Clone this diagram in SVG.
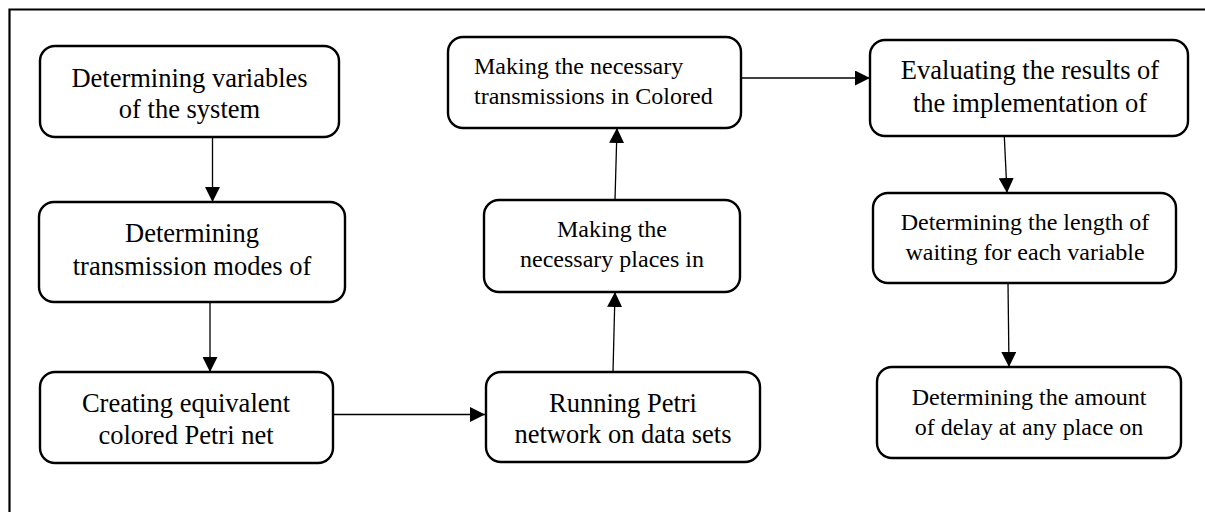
<svg xmlns="http://www.w3.org/2000/svg" width="1205" height="512" viewBox="0 0 1205 512">
  <style>
    .box { fill: #ffffff; stroke: #000000; stroke-width: 2.4; }
    .lbl { font-family: "Liberation Serif", "Times New Roman", serif; fill: #000000; text-anchor: middle; }
    .lg { font-size: 26.5px; }
    .sm { font-size: 24px; }
    .left { text-anchor: start; }
    .link { fill: none; stroke: #000000; stroke-width: 1.3; marker-end: url(#head); }
  </style>
  <defs>
    <marker id="head" viewBox="0 0 15 15" refX="15" refY="7.5" markerWidth="15" markerHeight="15" markerUnits="userSpaceOnUse" orient="auto">
      <path d="M0,0 L15,7.5 L0,15 Z" fill="#000000"/>
    </marker>
  </defs>

  <rect width="1205" height="512" fill="#ffffff"/>
  <!-- page frame (top and left edges) -->
  <path d="M9.5,512 V9.5 H1205" fill="none" stroke="#000000" stroke-width="2.2"/>

  <g id="connectors">
    <path class="link" d="M212.5,137 V202"/>
    <path class="link" d="M210,292 V372"/>
    <path class="link" d="M333,414.5 H485"/>
    <path class="link" d="M613,372 L615,292"/>
    <path class="link" d="M615,200 L617,128"/>
    <path class="link" d="M741,78 H870"/>
    <path class="link" d="M1004,130 L1007,193"/>
    <path class="link" d="M1008,283 L1009,367"/>
  </g>

  <g id="node-variables">
    <rect class="box" x="40" y="46" width="299" height="91" rx="15"/>
    <text class="lbl lg" x="189.5" y="87">Determining variables</text>
    <text class="lbl lg" x="189.5" y="118">of the system</text>
  </g>

  <g id="node-transmission-modes">
    <rect class="box" x="39" y="202" width="306" height="100" rx="15"/>
    <text class="lbl lg" x="192" y="242">Determining</text>
    <text class="lbl lg" x="192" y="275">transmission modes of</text>
  </g>

  <g id="node-colored-petri">
    <rect class="box" x="40" y="372" width="293" height="91" rx="15"/>
    <text class="lbl lg" x="186" y="412">Creating equivalent</text>
    <text class="lbl lg" x="186" y="444">colored Petri net</text>
  </g>

  <g id="node-running">
    <rect class="box" x="486" y="372" width="274" height="90" rx="15"/>
    <text class="lbl lg" x="623" y="412">Running Petri</text>
    <text class="lbl lg" x="623" y="443">network on data sets</text>
  </g>

  <g id="node-places">
    <rect class="box" x="484" y="200" width="256" height="92" rx="15"/>
    <text class="lbl sm" x="612" y="237">Making the</text>
    <text class="lbl sm" x="612" y="267">necessary places in</text>
  </g>

  <g id="node-transmissions">
    <rect class="box" x="448" y="37" width="293" height="91" rx="15"/>
    <text class="lbl sm left" x="474" y="74">Making the necessary</text>
    <text class="lbl sm left" x="474" y="104">transmissions in Colored</text>
  </g>

  <g id="node-evaluating">
    <rect class="box" x="870" y="40" width="318" height="96" rx="15"/>
    <text class="lbl lg" x="1030" y="79">Evaluating the results of</text>
    <text class="lbl lg" x="1030" y="112">the implementation of</text>
  </g>

  <g id="node-waiting">
    <rect class="box" x="873" y="193" width="303" height="90" rx="15"/>
    <text class="lbl sm" x="1025" y="230">Determining the length of</text>
    <text class="lbl sm" x="1025" y="260">waiting for each variable</text>
  </g>

  <g id="node-delay">
    <rect class="box" x="877" y="367" width="304" height="91" rx="15"/>
    <text class="lbl sm" x="1029" y="405">Determining the amount</text>
    <text class="lbl sm" x="1029" y="435">of delay at any place on</text>
  </g>
</svg>
